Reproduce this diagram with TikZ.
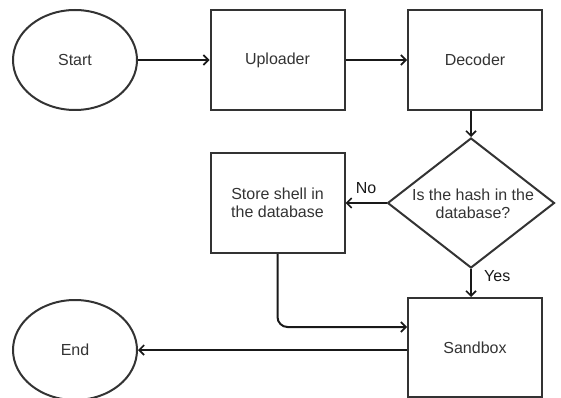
\documentclass[tikz,border=0pt]{standalone}
\usepackage{fontspec}
\setmainfont{Liberation Sans}
\usetikzlibrary{arrows.meta,shapes.geometric}
\begin{document}
\begin{tikzpicture}[x=1pt,y=-1pt,
  every node/.style={font=\fontsize{16}{17.5}\selectfont, text=black!80},
  box/.style={draw=black!80, line width=2pt, minimum width=134pt, minimum height=100pt, inner sep=0pt, align=center},
  term/.style={draw=black!80, line width=2pt, ellipse, minimum width=124pt, minimum height=100pt, inner sep=0pt},
  dec/.style={draw=black!80, line width=2pt, diamond, minimum width=167pt, minimum height=130pt, inner sep=0pt},
  conn/.style={draw=black!90, line width=2pt, -{Straight Barb[length=5pt,width=10pt,line width=1.6pt]}},
  lbl/.style={font=\fontsize{16}{17.5}\selectfont, text=black!90, inner sep=0pt}]
\useasboundingbox (0,0) rectangle (561,398);
\node[term] (start) at (75,60) {Start};
\node[box] (up) at (277.5,60) {Uploader};
\node[box] (decoder) at (475,60) {Decoder};
\node[dec] (hash) at (471,203) {};
\node[align=center, inner sep=0pt] (hashtxt) at (473,204) {Is the hash in the\\database?};
\node[box] (store) at (277.5,203) {Store shell in\\the database};
\node[box, minimum height=99pt] (sand) at (475,347.5) {Sandbox};
\node[term] (end) at (75,350) {End};
\coordinate (sl) at (sand.west |- 0,327);
\draw[conn] (start) -- (up);
\draw[conn] (up) -- (decoder);
\draw[conn] (decoder.south -| hash.north) -- (hash.north);
\draw[conn] (hash.west) -- (store.east |- hash.west) node[lbl, midway, above, yshift=8pt] {No};
\draw[conn] (hash.south) -- (hash.south |- sand.north);
\node[lbl, anchor=west] (yes) at (484,276) {Yes};
\draw[conn, rounded corners=10pt] (store.south) |- (sl);
\draw[conn] (sand.west |- end.east) -- (end.east);
\end{tikzpicture}
\end{document}
